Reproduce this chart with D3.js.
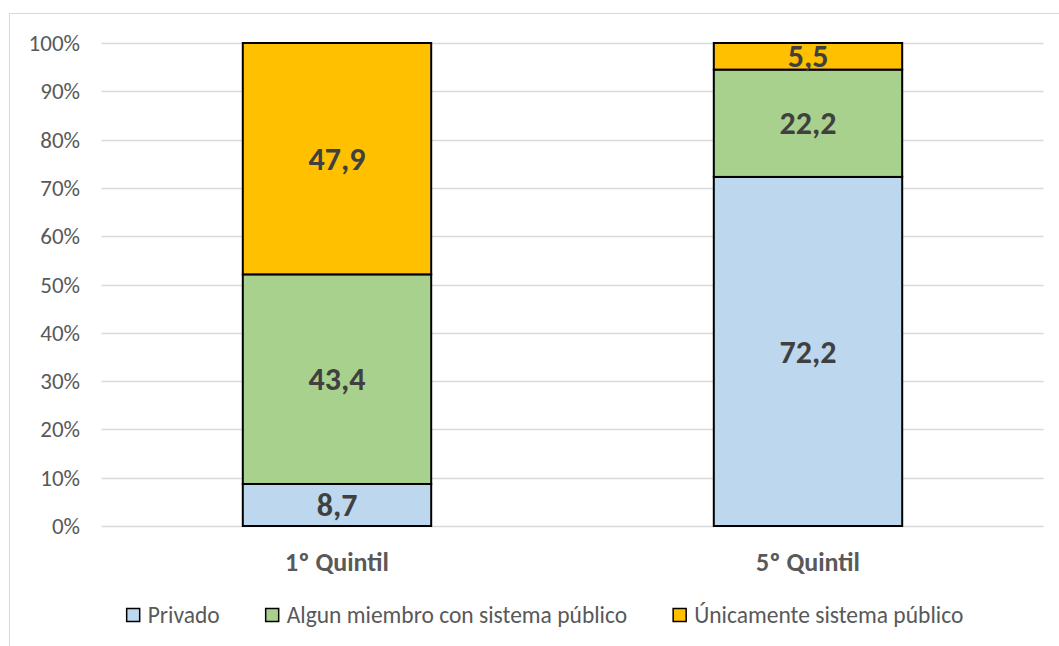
<!DOCTYPE html>
<html>
<head>
<meta charset="utf-8">
<script src="https://cdn.jsdelivr.net/npm/d3@7"></script>
<style>
  body { margin: 0; background: #fff; }
  text { font-family: Carlito, Calibri, Lato, sans-serif; }
</style>
</head>
<body>
<svg id="chart" width="1059" height="646"></svg>
<script>
// data
var categories = ["1º Quintil", "5º Quintil"];
var seriesNames = ["Privado", "Algun miembro con sistema público", "Únicamente sistema público"];
var privado = [8.7, 72.2];
var algun = [43.4, 22.2];
var unicamente = [47.9, 5.5];
var yTicks = [0, 0.1, 0.2, 0.3, 0.4, 0.5, 0.6, 0.7, 0.8, 0.9, 1];
var colors = ["#BDD7EE", "#A9D18E", "#FFC000"];

var rows = categories.map(function (c, i) {
  return { cat: c, s0: privado[i], s1: algun[i], s2: unicamente[i] };
});

var svg = d3.select("#chart");

// chart frame
svg.append("rect")
  .attr("x", 9.5).attr("y", 13.5)
  .attr("width", 1070).attr("height", 660)
  .attr("fill", "none")
  .attr("stroke", "#d9d9d9")
  .attr("stroke-width", 1);

var x = d3.scaleBand()
  .domain(categories)
  .range([101.5, 1043.5])
  .padding(0);

var y = d3.scaleLinear()
  .domain([0, 1])
  .range([526, 43]);

// gridlines
svg.append("g")
  .selectAll("line")
  .data(yTicks)
  .join("line")
  .attr("x1", 101.5).attr("x2", 1043.5)
  .attr("y1", d => Math.round(y(d)) + 0.5)
  .attr("y2", d => Math.round(y(d)) + 0.5)
  .attr("stroke", "#d9d9d9")
  .attr("stroke-width", 1.5);

// y tick labels
svg.append("g")
  .selectAll("text")
  .data(yTicks)
  .join("text")
  .attr("x", 80)
  .attr("y", d => y(d))
  .attr("dy", "0.35em")
  .attr("text-anchor", "end")
  .attr("fill", "#595959")
  .style("font-size", "23px")
  .text(d3.format(".0%"));

var stack = d3.stack()
  .keys(["s0", "s1", "s2"])
  .offset(d3.stackOffsetExpand);

var layers = stack(rows);
var barW = x.bandwidth() * 0.4;

var layer = svg.append("g")
  .selectAll("g")
  .data(layers)
  .join("g")
  .attr("fill", (d, i) => colors[i]);

layer.selectAll("rect")
  .data(d => d)
  .join("rect")
  .attr("x", d => x(d.data.cat) + (x.bandwidth() - barW) / 2)
  .attr("y", d => y(d[1]))
  .attr("width", barW)
  .attr("height", d => y(d[0]) - y(d[1]))
  .attr("stroke", "#000")
  .attr("stroke-width", 2);

// value labels
layer.selectAll("text")
  .data(d => d.map(p => ({ p: p, key: d.key })))
  .join("text")
  .attr("x", d => x(d.p.data.cat) + x.bandwidth() / 2)
  .attr("y", d => (y(d.p[0]) + y(d.p[1])) / 2)
  .attr("dy", "0.35em")
  .attr("text-anchor", "middle")
  .attr("fill", "#404040")
  .style("font-size", "32px")
  .style("font-weight", "bold")
  .text(d => d3.format(".1f")(d.p.data[d.key]).replace(".", ","));

// category labels
svg.append("g")
  .selectAll("text")
  .data(categories)
  .join("text")
  .attr("x", d => x(d) + x.bandwidth() / 2)
  .attr("y", 562)
  .attr("dy", "0.35em")
  .attr("text-anchor", "middle")
  .attr("fill", "#595959")
  .style("font-size", "26px")
  .style("font-weight", "bold")
  .text(d => d);

// legend
var legend = svg.append("g");
var items = legend.selectAll("g")
  .data(seriesNames)
  .join("g");

items.append("rect")
  .attr("width", 13).attr("height", 13)
  .attr("y", -6.5)
  .attr("fill", (d, i) => colors[i])
  .attr("stroke", "#000")
  .attr("stroke-width", 1.5);

items.append("text")
  .attr("x", 21)
  .attr("dy", "0.35em")
  .attr("fill", "#595959")
  .style("font-size", "23.5px")
  .text(d => d);

var gap = 46, offs = 0, widths = [];
items.each(function () {
  widths.push(this.getBBox().width);
});
items.attr("transform", function (d, i) {
  var t = "translate(" + offs + ",0)";
  offs += widths[i] + gap;
  return t;
});
var total = offs - gap;
legend.attr("transform", "translate(" + (545 - total / 2) + ",615)");
</script>
</body>
</html>
